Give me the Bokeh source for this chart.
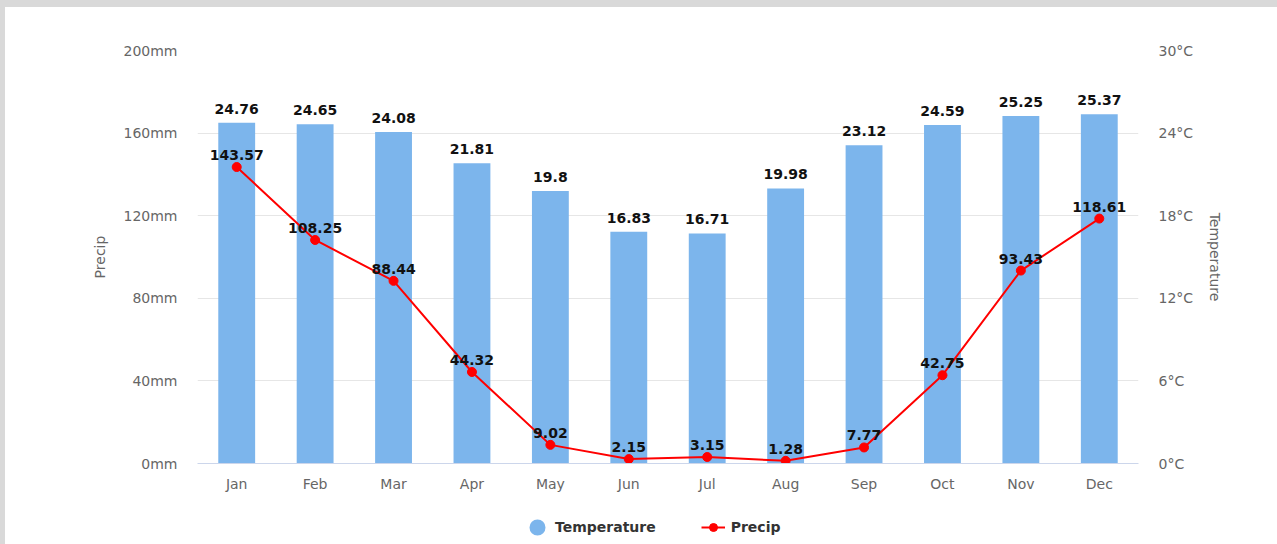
from bokeh.plotting import figure
from bokeh.layouts import column
from bokeh.models import (Range1d, LinearAxis, FixedTicker, PrintfTickFormatter,
                          ColumnDataSource, Legend, LegendItem, GlobalInlineStyleSheet)
from bokeh.core.properties import value
from bokeh.embed import file_html
from bokeh.resources import INLINE

months = ["Jan", "Feb", "Mar", "Apr", "May", "Jun", "Jul", "Aug", "Sep", "Oct", "Nov", "Dec"]
temperature = [24.76, 24.65, 24.08, 21.81, 19.8, 16.83, 16.71, 19.98, 23.12, 24.59, 25.25, 25.37]
precip = [143.57, 108.25, 88.44, 44.32, 9.02, 2.15, 3.15, 1.28, 7.77, 42.75, 93.43, 118.61]
precip_ticks = [0, 40, 80, 120, 160, 200]
temp_ticks = [0, 6, 12, 18, 24, 30]
series_names = ["Temperature", "Precip"]

FONT = "DejaVu Sans"
BAR = "#7cb5ec"
RED = "#ff0000"
GREY = "#666666"

src = ColumnDataSource(data=dict(
    month=months, temp=temperature, precip=precip,
    temp_lbl=[f"{v:g}" for v in temperature],
    precip_lbl=[f"{v:g}" for v in precip],
))

fig = figure(width=1272, height=503, x_range=months, y_range=Range1d(0, 200),
             output_backend="svg", toolbar_location=None,
             min_border_left=192, min_border_right=139, min_border_top=43, min_border_bottom=47)
fig.outline_line_color = None
fig.background_fill_color = "white"
fig.border_fill_color = "white"
fig.styles = {"background-color": "white"}
fig.extra_y_ranges = {"temp": Range1d(0, 30)}

# bars (temperature, right axis)
fig.vbar(x="month", top="temp", width=0.47, source=src, y_range_name="temp",
         fill_color=BAR, line_color=None)

# precip line
fig.line(x="month", y="precip", source=src, line_color=RED, line_width=2)
fig.scatter(x="month", y="precip", source=src, size=9, fill_color=RED, line_color=RED)

# labels
fig.text(x="month", y="temp", text="temp_lbl", source=src, y_range_name="temp",
         text_font=value(FONT), text_font_size="14px", text_font_style="bold",
         text_color="#111111", text_align="center", text_baseline="bottom", y_offset=-9)
fig.text(x="month", y="precip", text="precip_lbl", source=src,
         text_font=value(FONT), text_font_size="14px", text_font_style="bold",
         text_color="#111111", text_align="center", text_baseline="bottom", y_offset=-7)

# axes
fig.yaxis.ticker = FixedTicker(ticks=precip_ticks)
fig.yaxis.formatter = PrintfTickFormatter(format="%dmm")
fig.yaxis.axis_label = "Precip"
right = LinearAxis(y_range_name="temp", ticker=FixedTicker(ticks=temp_ticks),
                   formatter=PrintfTickFormatter(format="%d°C"), axis_label="Temperature")
fig.add_layout(right, "right")

for ax in (fig.yaxis[0], right):
    ax.axis_line_color = None
    ax.major_tick_line_color = None
    ax.minor_tick_line_color = None
    ax.major_tick_out = 0
    ax.major_label_standoff = 20
    ax.major_label_text_font = FONT
    ax.major_label_text_font_size = "14px"
    ax.major_label_text_color = GREY
    ax.axis_label_text_font = FONT
    ax.axis_label_text_font_size = "14px"
    ax.axis_label_text_font_style = "normal"
    ax.axis_label_text_color = GREY
fig.yaxis[0].axis_label_standoff = 13
right.axis_label_standoff = 11

xa = fig.xaxis[0]
xa.axis_line_color = "#ccd6eb"
xa.major_tick_line_color = None
xa.minor_tick_line_color = None
xa.major_tick_out = 0
xa.major_label_standoff = 12
xa.major_label_text_font = FONT
xa.major_label_text_font_size = "14px"
xa.major_label_text_color = GREY

fig.xgrid.grid_line_color = None
fig.ygrid.grid_line_color = "#e6e6e6"
fig.ygrid.ticker = FixedTicker(ticks=precip_ticks)

# legend strip (separate figure below the chart); its proxy glyphs use the
# same data but lie outside this strip's y range, so only the legend shows
lfig = figure(width=1272, height=34, x_range=months, y_range=Range1d(1000, 1001),
              output_backend="svg", toolbar_location=None,
              x_axis_type=None, y_axis_type=None, min_border=0)
lfig.outline_line_color = None
lfig.grid.visible = False
lfig.background_fill_color = "white"
lfig.border_fill_color = "white"
lfig.styles = {"background-color": "white"}
l_circle = lfig.scatter(x="month", y="temp", source=src, fill_color=BAR, line_color=BAR, line_width=8)
l_line = lfig.line(x="month", y="precip", source=src, line_color=RED, line_width=2)
l_dot = lfig.scatter(x="month", y="precip", source=src, fill_color=RED, line_color=RED, line_width=1)

legend = Legend(items=[LegendItem(label=series_names[0], renderers=[l_circle]),
                       LegendItem(label=series_names[1], renderers=[l_line, l_dot])],
                orientation="horizontal", location=(328, 7), padding=0, margin=0,
                border_line_color=None, background_fill_alpha=0,
                label_text_font=FONT, label_text_font_size="14px",
                label_text_font_style="bold", label_text_color="#333333",
                glyph_width=24, glyph_height=20, label_standoff=6, spacing=45)
lfig.add_layout(legend)

p = column(fig, lfig, spacing=0, margin=(7, 0, 0, 5),
           styles={"background-color": "white"},
           stylesheets=[GlobalInlineStyleSheet(css="body { background: #d9d9d9; }")])

open("out.html", "w").write(file_html(p, INLINE))
